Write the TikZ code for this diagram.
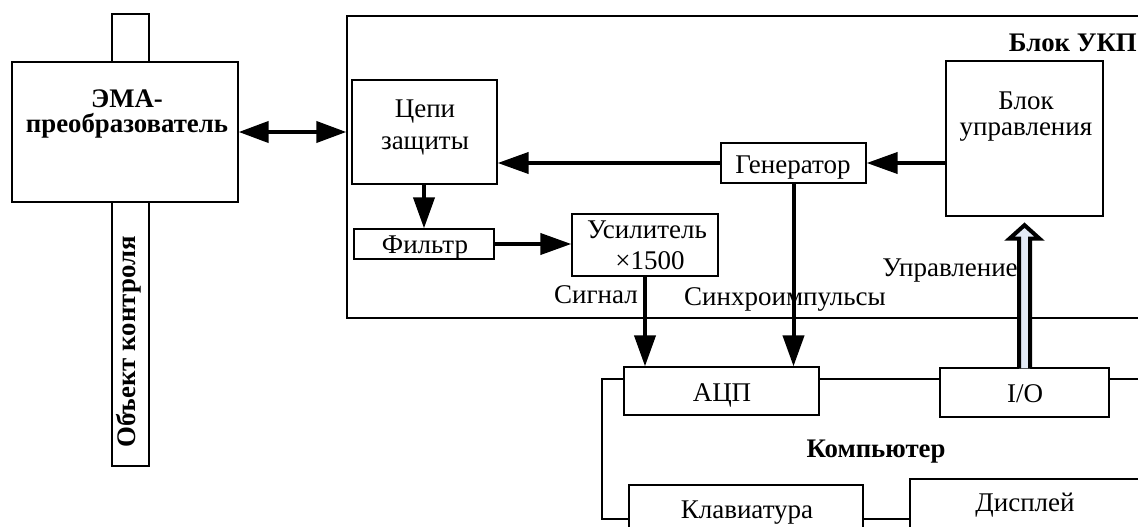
\documentclass[tikz,border=0pt]{standalone}
\usepackage{fontspec}
\setmainfont{Liberation Serif}
\usetikzlibrary{arrows.meta}
\definecolor{hollowfill}{HTML}{E3EAF6}
\begin{document}
\begin{tikzpicture}[x=1pt,y=-1pt,
  box/.style={draw, line width=1.3pt, fill=white, inner sep=0pt},
  lbl/.style={font=\fontsize{27pt}{#1}\selectfont, inner sep=0pt, align=center},
  lbl/.default=31pt,
  blbl/.style={font=\fontsize{26.8pt}{#1}\selectfont\bfseries, inner sep=0pt, align=center},
  blbl/.default=25pt,
  bigarrow/.style={line width=4pt, -{Triangle[length=31pt,width=21pt]}},
  botharrow/.style={line width=4pt, {Triangle[length=30pt,width=21pt]}-{Triangle[length=30pt,width=21pt]}},
  thinline/.style={line width=1.3pt}]
\useasboundingbox (0,0) rectangle (1138,527);

% Blok UKP frame
\node[box, line width=1.4pt, minimum width=813pt, minimum height=302pt] (ukp) at (753.5,167) {};
\node[blbl, anchor=base east] (ukptxt) at (1137,52) {Блок УКП};

% object bar and EMA
\node[box, minimum width=37pt, minimum height=452pt] (obj) at (130.5,240) {};
\node[box, minimum width=226pt, minimum height=140pt] (ema) at (125,132) {};
\node[blbl=25pt, anchor=base] (ematxt) at (127,132) {ЭМА-\\преобразователь};
\node[blbl, rotate=90, anchor=base] (objtxt) at (135.5,342) {Объект контроля};

% inner boxes
\node[box, minimum width=145pt, minimum height=104pt] (cepi) at (424.5,132) {};
\node[lbl=32pt, anchor=base] (cepitxt) at (425,149) {Цепи\\защиты};
\node[box, minimum width=140pt, minimum height=30pt] (filtr) at (424,244) {};
\node[lbl, anchor=base] (filtrtxt) at (425,253) {Фильтр};
\node[box, minimum width=146pt, minimum height=62pt] (usil) at (645,245) {};
\node[lbl=31pt, anchor=base] (usiltxt) at (647,269) {Усилитель\\\hspace*{6pt}×1500};
\node[box, minimum width=145pt, minimum height=40pt] (gen) at (793.5,163) {};
\node[lbl, anchor=base] (gentxt) at (793,173) {Генератор};
\node[box, minimum width=157pt, minimum height=155pt] (bu) at (1024.5,138.5) {};
\node[lbl=25pt, anchor=base] (butxt) at (1026,135) {Блок\\управления};

% computer
\node[box, minimum width=195pt, minimum height=48pt] (adc) at (721.5,391) {};
\node[lbl, anchor=base] (adctxt) at (722,401) {АЦП};
\node[box, minimum width=169pt, minimum height=49pt] (io) at (1024.5,392.5) {};
\node[lbl, anchor=base] (iotxt) at (1025,402) {I/O};
\node[box, minimum width=234pt, minimum height=75pt] (klav) at (746,522.5) {};
\node[lbl, anchor=base] (klavtxt) at (747,518) {Клавиатура};
\node[box, minimum width=250pt, minimum height=81pt] (disp) at (1035,519.5) {};
\node[lbl, anchor=base] (disptxt) at (1025,511) {Дисплей};
\node[blbl, anchor=base] (comptxt) at (876,457) {Компьютер};

\coordinate (busL) at (602,379);
\coordinate (busR) at (1170,379);
\coordinate (busB) at (602,519);
\draw[thinline] (adc.west |- busL) -- (busL) -- (busB) -- (klav.west |- busB);
\draw[thinline] (adc.east |- busL) -- (io.west |- busL);
\draw[thinline] (io.east |- busL) -- (busR);
\draw[thinline] (klav.east |- busB) -- (disp.west |- busB);

% connector labels
\node[lbl, anchor=base] (sigtxt) at (596,303) {Сигнал};
\node[lbl, anchor=base] (synctxt) at (785,305) {Синхроимпульсы};
\node[lbl, anchor=base] (ctrltxt) at (950,276) {Управление};

% arrows
\draw[botharrow] (ema.east) -- (ema.east -| ukp.west);
\draw[bigarrow] (gen.west) -- (gen.west -| cepi.east);
\draw[bigarrow] (bu.west |- gen.east) -- (gen.east);
\draw[bigarrow] (cepi.south -| filtr.north) -- (filtr.north);
\draw[bigarrow] (filtr.east) -- (filtr.east -| usil.west);
\draw[bigarrow] (usil.south) -- (usil.south |- adc.north);
\draw[bigarrow] (gen.south) -- (gen.south |- adc.north);

% hollow arrow I/O -> Blok upravleniya
\draw[line width=4pt, fill=hollowfill, line join=miter]
  ([xshift=-5.5pt,yshift=-1pt]io.north) -- ([xshift=-5.5pt,yshift=-22pt]bu.south)
  -- ([xshift=-15pt,yshift=-22pt]bu.south) -- ([yshift=-8.5pt]bu.south)
  -- ([xshift=15pt,yshift=-22pt]bu.south) -- ([xshift=5.5pt,yshift=-22pt]bu.south)
  -- ([xshift=5.5pt,yshift=-1pt]io.north);
\end{tikzpicture}
\end{document}
